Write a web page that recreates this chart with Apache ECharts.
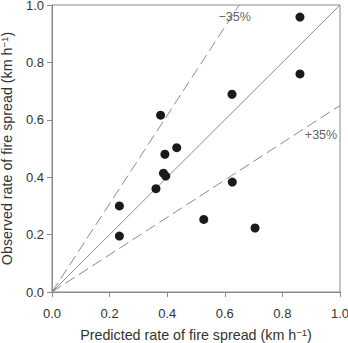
<!DOCTYPE html>
<html><head><meta charset="utf-8">
<script src="https://cdn.jsdelivr.net/npm/echarts@6/dist/echarts.min.js"></script>
<style>html,body{margin:0;padding:0;background:#fff}#c{width:348px;height:343px}</style>
</head><body><div id="c"></div>
<script>
var predicted = [0.861, 0.861, 0.625, 0.433, 0.377, 0.392, 0.387, 0.395, 0.361, 0.234, 0.234, 0.626, 0.527, 0.705];
var observed  = [0.958, 0.760, 0.689, 0.503, 0.616, 0.480, 0.414, 0.404, 0.360, 0.300, 0.195, 0.383, 0.253, 0.223];
var tickValues = [0, 0.2, 0.4, 0.6, 0.8, 1.0];
var lineOneToOne = [[0, 0], [1, 1]];
var lineMinus35 = [[0, 0], [0.65, 1]];
var linePlus35 = [[0, 0], [1, 0.65]];
var annotations = [{text: '\u221235%', pos: [0.634, 0.957]}, {text: '+35%', pos: [0.934, 0.547]}];

var font = 'Liberation Sans, Arial, Helvetica, sans-serif';
var gray = '#8a8a8a';
var pts = predicted.map(function (p, i) { return [p, observed[i]]; });

function axisCommon(nameStr) {
  return {
    type: 'value', min: 0, max: 1, interval: 0.2,
    axisLine: {show: true, lineStyle: {color: gray, width: 1}},
    axisTick: {show: true, length: 5, lineStyle: {color: gray}},
    splitLine: {show: false},
    axisLabel: {color: '#333', fontSize: 13, fontFamily: font, lineHeight: 10,
      formatter: function (v) { return v.toFixed(1); }},
    name: '{a|' + nameStr + ' (km h}{s|\u22121}{a|)}',
    nameLocation: 'middle',
    nameTextStyle: {
      rich: {
        a: {fontSize: 14.3, fontFamily: font, color: '#333', lineHeight: 16},
        s: {fontSize: 9.5, fontFamily: font, color: '#333', verticalAlign: 'top', lineHeight: 10}
      }
    }
  };
}
var xAxis = axisCommon('Predicted rate of fire spread');
xAxis.nameGap = 35;
xAxis.axisLabel.margin = 16;
var yAxis = axisCommon('Observed rate of fire spread');
yAxis.nameGap = 37;
yAxis.axisLabel.margin = 8;

var chart = echarts.init(document.getElementById('c'), null, {renderer: 'svg'});
chart.setOption({
  animation: false,
  grid: {left: 52, right: 8, top: 5, bottom: 51, containLabel: false, outerBoundsMode: 'none',
    show: true, borderColor: gray, borderWidth: 1, backgroundColor: 'transparent'},
  xAxis: xAxis,
  yAxis: yAxis,
  series: [
    {type: 'line', data: lineOneToOne, symbol: 'none', lineStyle: {color: gray, width: 1}, z: 2},
    {type: 'line', data: lineMinus35, symbol: 'none', lineStyle: {color: gray, width: 1, type: [11, 5]}, z: 2},
    {type: 'line', data: linePlus35, symbol: 'none', lineStyle: {color: gray, width: 1, type: [11, 5]}, z: 2},
    {type: 'scatter', data: pts, symbol: 'circle', symbolSize: 9, itemStyle: {color: '#1a1a1a', opacity: 1}, z: 5},
    {type: 'scatter', data: annotations.map(function (a) { return {value: a.pos, name: a.text}; }),
      symbolSize: 0, silent: true,
      label: {show: true, position: 'inside', formatter: function (p) { return p.name; },
        color: '#333', fontSize: 12.5, fontFamily: font}}
  ]
});
</script></body></html>
